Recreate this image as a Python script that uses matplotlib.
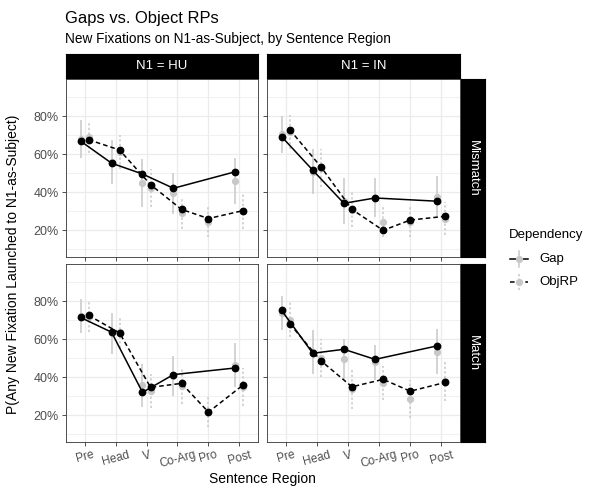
import matplotlib.pyplot as plt
import matplotlib.ticker as mticker
import numpy as np

plt.rcParams['font.family'] = ['Liberation Sans', 'DejaVu Sans']

# Datos
regions = ['Pre', 'Head', 'V', 'Co-Arg', 'Pro', 'Post']
n1_levels = ['HU', 'IN']
match_levels = ['Mismatch', 'Match']

# model estimates (black points), None = region not present
gap_est = {
    ('HU', 'Mismatch'): [0.669, 0.553, 0.496, 0.421, None, 0.508],
    ('IN', 'Mismatch'): [0.692, 0.516, 0.342, 0.370, None, 0.353],
    ('HU', 'Match'):    [0.714, 0.637, 0.321, 0.414, None, 0.449],
    ('IN', 'Match'):    [0.751, 0.526, 0.547, 0.494, None, 0.565],
}
objrp_est = {
    ('HU', 'Mismatch'): [0.676, 0.622, 0.440, 0.310, 0.262, 0.304],
    ('IN', 'Mismatch'): [0.729, 0.534, 0.310, 0.200, 0.254, 0.274],
    ('HU', 'Match'):    [0.725, 0.633, 0.347, 0.368, 0.217, 0.361],
    ('IN', 'Match'):    [0.681, 0.487, 0.350, 0.389, 0.327, 0.373],
}
# observed means (grey points) and CI half widths
gap_obs = {
    ('HU', 'Mismatch'): [0.680, 0.559, 0.448, 0.395, None, 0.459],
    ('IN', 'Mismatch'): [0.704, 0.508, 0.356, 0.372, None, 0.375],
    ('HU', 'Match'):    [0.721, 0.630, 0.357, 0.406, None, 0.466],
    ('IN', 'Match'):    [0.739, 0.533, 0.495, 0.478, None, 0.535],
}
gap_ci = {
    ('HU', 'Mismatch'): [0.100, 0.115, 0.126, 0.108, None, 0.120],
    ('IN', 'Mismatch'): [0.096, 0.117, 0.121, 0.102, None, 0.109],
    ('HU', 'Match'):    [0.090, 0.107, 0.112, 0.105, None, 0.116],
    ('IN', 'Match'):    [0.090, 0.116, 0.105, 0.093, None, 0.120],
}
objrp_obs = {
    ('HU', 'Mismatch'): [0.692, 0.611, 0.422, 0.290, 0.243, 0.300],
    ('IN', 'Mismatch'): [0.717, 0.526, 0.308, 0.243, 0.245, 0.261],
    ('HU', 'Match'):    [0.719, 0.636, 0.327, 0.354, 0.218, 0.348],
    ('IN', 'Match'):    [0.702, 0.500, 0.338, 0.370, 0.287, 0.379],
}
objrp_ci = {
    ('HU', 'Mismatch'): [0.085, 0.089, 0.100, 0.082, 0.078, 0.092],
    ('IN', 'Mismatch'): [0.091, 0.100, 0.091, 0.078, 0.080, 0.087],
    ('HU', 'Match'):    [0.079, 0.083, 0.090, 0.094, 0.079, 0.100],
    ('IN', 'Match'):    [0.091, 0.100, 0.103, 0.090, 0.101, 0.103],
}

W, H = 590, 486
fig = plt.figure(figsize=(W / 100, H / 100), dpi=100)

def box(x0, y0, x1, y1):
    return [x0 / W, 1 - y1 / H, (x1 - x0) / W, (y1 - y0) / H]

col_x = [(66, 258), (267, 460)]
row_y = [(79, 257), (264, 442)]
grey = '#c8c8c8'
dodge = 0.13

for r, m in enumerate(match_levels):
    for c, n1 in enumerate(n1_levels):
        ax = fig.add_axes(box(col_x[c][0], row_y[r][0], col_x[c][1], row_y[r][1]))
        key = (n1, m)
        x = np.arange(1, len(regions) + 1, dtype=float)
        has_gap = np.array([v is not None for v in gap_est[key]])
        # dodge only where both groups exist
        xg = (x - dodge)[has_gap]
        xo = np.where(has_gap, x + dodge, x)

        ge = np.array([v for v in gap_est[key] if v is not None])
        go = np.array([v for v in gap_obs[key] if v is not None])
        gc = np.array([v for v in gap_ci[key] if v is not None])
        oe = np.array(objrp_est[key])
        oo = np.array(objrp_obs[key])
        oc = np.array(objrp_ci[key])

        # observed: grey pointranges
        ax.vlines(xg, go - gc, go + gc, color=grey, lw=1.1, zorder=2)
        ax.vlines(xo, oo - oc, oo + oc, color=grey, lw=1.1, linestyles=(0, (1.5, 1.5)), zorder=2)
        ax.plot(xg, go, 'o', color=grey, ms=4.2, zorder=2)
        ax.plot(xo, oo, 'o', color=grey, ms=4.2, zorder=2)

        # estimates: black lines + points
        ax.plot(xg, ge, '-', color='black', lw=1.1, zorder=3)
        ax.plot(xo, oe, '--', color='black', lw=1.1, dashes=(3, 2), zorder=3)
        ax.plot(xg, ge, 'o', color='black', ms=4.6, zorder=4)
        ax.plot(xo, oe, 'o', color='black', ms=4.6, zorder=4)

        ax.set_xlim(0.4, 6.6)
        ax.set_ylim(0.06, 0.995)
        ax.set_xticks(x)
        ax.yaxis.set_major_locator(mticker.FixedLocator([0.2, 0.4, 0.6, 0.8]))
        ax.yaxis.set_minor_locator(mticker.FixedLocator([0.1, 0.3, 0.5, 0.7, 0.9]))
        ax.grid(True, which='major', color='#ebebeb', lw=0.9, zorder=0)
        ax.grid(True, which='minor', axis='y', color='#ebebeb', lw=0.5, zorder=0)
        ax.set_axisbelow(True)
        for s in ax.spines.values():
            s.set_color('#333333')
            s.set_linewidth(0.6)
        ax.tick_params(which='major', length=3, width=0.6, color='#333333',
                       labelsize=9, labelcolor='#4d4d4d', pad=2)
        ax.tick_params(which='minor', length=0)
        if c == 0:
            ax.yaxis.set_major_formatter(mticker.PercentFormatter(1.0, decimals=0))
        else:
            ax.set_yticklabels([])
        if r == 1:
            ax.set_xticklabels(regions, rotation=15, ha='center', fontsize=8.5)
        else:
            ax.set_xticklabels([])

# strips top
for c, n1 in enumerate(n1_levels):
    sax = fig.add_axes(box(col_x[c][0], 54, col_x[c][1], 78))
    sax.set_facecolor('black')
    sax.set_xticks([]); sax.set_yticks([])
    sax.text(0.5, 0.5, 'N1 = ' + n1, color='white', fontsize=9.5,
             ha='center', va='center', transform=sax.transAxes)
# strips right
for r, m in enumerate(match_levels):
    sax = fig.add_axes(box(461, row_y[r][0], 485, row_y[r][1]))
    sax.set_facecolor('black')
    sax.set_xticks([]); sax.set_yticks([])
    sax.text(0.5, 0.5, m, color='white', fontsize=9.5, rotation=-90,
             ha='center', va='center', transform=sax.transAxes)

# Etiquetas y título
fig.text(65 / W, 1 - 18 / H, 'Gaps vs. Object RPs', fontsize=11.9, va='center', ha='left')
fig.text(65 / W, 1 - 39 / H, 'New Fixations on N1-as-Subject, by Sentence Region',
         fontsize=9.8, va='center', ha='left')
fig.text(262 / W, 1 - 479 / H, 'Sentence Region', fontsize=10, ha='center', va='center')
fig.text(13 / W, 1 - 264 / H, 'P(Any New Fixation Launched to N1-as-Subject)',
         fontsize=10, rotation=90, ha='center', va='center')

# leyenda
lax = fig.add_axes(box(495, 225, 590, 295))
lax.set_xlim(495, 590)
lax.set_ylim(295, 225)
lax.axis('off')
lax.text(509, 235, 'Dependency', fontsize=9.5, va='center', ha='left')
for yy, lab, ls in [(259, 'Gap', '-'), (282, 'ObjRP', (0, (3, 2)))]:
    lax.plot([519, 519], [yy - 8, yy + 8], color=grey, lw=1.1, zorder=1,
             linestyle='-' if lab == 'Gap' else (0, (1.5, 1.5)))
    lax.plot([510, 528], [yy, yy], color='black', lw=1.1, linestyle=ls, zorder=2)
    lax.plot([519], [yy], 'o', color=grey, ms=4.2, zorder=3)
    lax.text(539, yy, lab, fontsize=9.5, va='center', ha='left')

fig.savefig('out.png', dpi=100)
